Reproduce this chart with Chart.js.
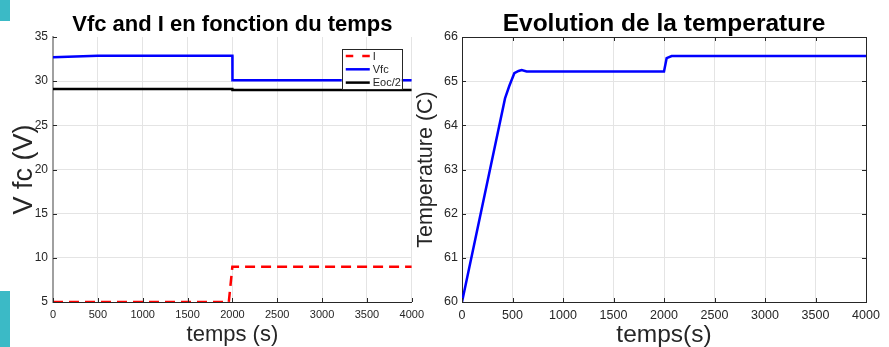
<!DOCTYPE html>
<html>
<head>
<meta charset="utf-8">
<script src="https://cdn.jsdelivr.net/npm/chart.js@4.4.0/dist/chart.umd.min.js"></script>
<style>
  body { margin: 0; background: #fff; }
  #wrap { position: relative; width: 889px; height: 347px; overflow: hidden; }
  canvas { position: absolute; top: 0; }
  .teal { position: absolute; left: 0; width: 10px; background: #3bbac6; }
</style>
</head>
<body>
<div id="wrap">
  <canvas id="left" width="430" height="347" style="left:0"></canvas>
  <canvas id="right" width="477" height="347" style="left:412px"></canvas>
  <div class="teal" style="top:0;height:21px"></div>
  <div class="teal" style="top:291px;height:56px"></div>
</div>
<script>
// left plot data
var timeI = [0, 1960, 2000, 4000];
var iValues = [5, 5, 9, 9];
var timeVfc = [0, 500, 2000, 2001, 4000];
var vfcValues = [32.7, 32.88, 32.88, 30.1, 30.1];
var timeEoc = [0, 2000, 2001, 4000];
var eocValues = [29.12, 29.1, 29.0, 29.0];

// right plot data
var timeTemp = [0, 426, 468, 518, 560, 591, 640, 2000, 2026, 2076, 4000];
var tempValues = [60, 64.61, 64.89, 65.18, 65.23, 65.25, 65.22, 65.22, 65.52, 65.57, 65.57];

// ticks
var timeTicks = [0, 500, 1000, 1500, 2000, 2500, 3000, 3500, 4000];
var vTicks = [5, 10, 15, 20, 25, 30, 35];
var tempTicks = [60, 61, 62, 63, 64, 65, 66];

var FONT = "'Liberation Sans', Arial, Helvetica, sans-serif";
var gridColor = '#e4e4e4';
var textColor = '#262626';

function pts(xs, ys) {
  return xs.map(function (x, i) { return { x: x, y: ys[i] }; });
}
function setTicks(list) {
  return function (s) { s.ticks = list.map(function (v) { return { value: v }; }); };
}
function plain(v) { return String(v); }

// little ticks pointing into the plot, like matlab
var insideTicks = {
  id: 'insideTicks',
  afterDraw: function (chart, args, opts) {
    var ctx = chart.ctx, a = chart.chartArea, sx = chart.scales.x, sy = chart.scales.y;
    ctx.save();
    ctx.strokeStyle = textColor;
    ctx.lineWidth = 1;
    ctx.beginPath();
    sx.ticks.forEach(function (t) {
      var px = Math.round(sx.getPixelForValue(t.value)) + 0.5;
      ctx.moveTo(px, a.bottom); ctx.lineTo(px, a.bottom - 4);
      if (opts.box) { ctx.moveTo(px, a.top); ctx.lineTo(px, a.top + 4); }
    });
    sy.ticks.forEach(function (t) {
      var py = Math.round(sy.getPixelForValue(t.value)) + 0.5;
      ctx.moveTo(a.left, py); ctx.lineTo(a.left + 4, py);
      if (opts.box) { ctx.moveTo(a.right, py); ctx.lineTo(a.right - 4, py); }
    });
    if (opts.box) {
      ctx.moveTo(a.left, Math.round(a.top) + 0.5); ctx.lineTo(a.right, Math.round(a.top) + 0.5);
      ctx.moveTo(Math.round(a.right) + 0.5, a.top); ctx.lineTo(Math.round(a.right) + 0.5, a.bottom);
    }
    ctx.stroke();
    ctx.restore();
  }
};

// legend box inside the plot (top right)
var boxLegend = {
  id: 'boxLegend',
  afterDraw: function (chart, args, opts) {
    if (!opts.show) return;
    var ctx = chart.ctx, a = chart.chartArea;
    var w = 60, h = 40;
    var x0 = a.right - 10 - w, y0 = a.top + 12;
    ctx.save();
    ctx.fillStyle = '#fff';
    ctx.strokeStyle = '#262626';
    ctx.lineWidth = 1;
    ctx.fillRect(x0, y0, w, h);
    ctx.strokeRect(Math.round(x0) + 0.5, Math.round(y0) + 0.5, w, h);
    ctx.font = '11px ' + FONT;
    ctx.textBaseline = 'middle';
    chart.data.datasets.forEach(function (ds, i) {
      var y = y0 + 7 + i * 13.3;
      ctx.beginPath();
      ctx.strokeStyle = ds.borderColor;
      ctx.lineWidth = 2.5;
      ctx.setLineDash(ds.borderDash ? [7.5, 9] : []);
      ctx.moveTo(x0 + 4, y); ctx.lineTo(x0 + 28, y);
      ctx.stroke();
      ctx.setLineDash([]);
      ctx.fillStyle = textColor;
      ctx.fillText(ds.label, x0 + 31, y + 0.5);
    });
    ctx.restore();
  }
};

var chartL = new Chart(document.getElementById('left'), {
  type: 'line',
  data: {
    datasets: [
      { label: 'I', data: pts(timeI, iValues), borderColor: '#ff0000', borderWidth: 2.5, borderDash: [10, 6], pointRadius: 0 },
      { label: 'Vfc', data: pts(timeVfc, vfcValues), borderColor: '#0000ff', borderWidth: 2.5, pointRadius: 0 },
      { label: 'Eoc/2', data: pts(timeEoc, eocValues), borderColor: '#000000', borderWidth: 2.5, pointRadius: 0 }
    ]
  },
  options: {
    responsive: false,
    animation: false,
    layout: { padding: { left: 0, right: 18, top: 0, bottom: 0 } },
    plugins: {
      legend: { display: false },
      tooltip: { enabled: false },
      title: {
        display: true,
        fullSize: false,
        text: 'Vfc and I en fonction du temps',
        color: '#000',
        font: { family: FONT, size: 22, weight: 'bold', lineHeight: 1 },
        padding: { top: 14, bottom: 1 }
      },
      insideTicks: { box: false },
      boxLegend: { show: true }
    },
    scales: {
      x: {
        type: 'linear', min: 0, max: 4000,
        afterBuildTicks: setTicks(timeTicks),
        afterFit: function (s) { s.height = 45; },
        grid: { color: gridColor, drawTicks: false },
        border: { color: textColor, width: 1 },
        ticks: { color: textColor, padding: 6, callback: plain, font: { family: FONT, size: 11 } },
        title: { display: true, text: 'temps (s)', color: textColor, font: { family: FONT, size: 22, lineHeight: 1 }, padding: { top: 0, bottom: 1 } }
      },
      y: {
        min: 5, max: 35,
        afterBuildTicks: setTicks(vTicks),
        afterFit: function (s) { s.width = 53; },
        grid: { color: function (c) { return c.tick && c.tick.value === 35 ? 'rgba(0,0,0,0)' : gridColor; }, drawTicks: false },
        border: { color: '#a0a0a0', width: 2 },
        ticks: { color: textColor, padding: 5, callback: plain, font: { family: FONT, size: 12 } },
        title: { display: true, text: 'V fc (V)', color: textColor, font: { family: FONT, size: 27, lineHeight: 1 }, padding: { top: 11, bottom: 0 } }
      }
    }
  },
  plugins: [insideTicks, boxLegend]
});

var chartR = new Chart(document.getElementById('right'), {
  type: 'line',
  data: {
    datasets: [
      { label: 'Temperature', data: pts(timeTemp, tempValues), borderColor: '#0000ff', borderWidth: 2.5, pointRadius: 0 }
    ]
  },
  options: {
    responsive: false,
    animation: false,
    layout: { padding: { left: 0, right: 23, top: 0, bottom: 0 } },
    plugins: {
      legend: { display: false },
      tooltip: { enabled: false },
      title: {
        display: true,
        fullSize: false,
        text: 'Evolution de la temperature',
        color: '#000',
        font: { family: FONT, size: 24.5, weight: 'bold', lineHeight: 1 },
        padding: { top: 12, bottom: 0.5 }
      },
      insideTicks: { box: true },
      boxLegend: { show: false }
    },
    scales: {
      x: {
        type: 'linear', min: 0, max: 4000,
        afterBuildTicks: setTicks(timeTicks),
        afterFit: function (s) { s.height = 45; },
        grid: { color: gridColor, drawTicks: false },
        border: { color: textColor, width: 1 },
        ticks: { color: textColor, padding: 6, callback: plain, font: { family: FONT, size: 12.5 } },
        title: { display: true, text: 'temps(s)', color: textColor, font: { family: FONT, size: 24.5, lineHeight: 1 }, padding: { top: 0, bottom: 0 } }
      },
      y: {
        min: 60, max: 66,
        afterBuildTicks: setTicks(tempTicks),
        afterFit: function (s) { s.width = 50; },
        grid: { color: gridColor, drawTicks: false },
        border: { color: textColor, width: 1 },
        ticks: { color: textColor, padding: 4, callback: plain, font: { family: FONT, size: 12.5 } },
        title: { display: true, text: 'Temperature (C)', color: textColor, font: { family: FONT, size: 21.5, lineHeight: 1 }, padding: { top: 3, bottom: 0 } }
      }
    }
  },
  plugins: [insideTicks, boxLegend]
});
</script>
</body>
</html>
